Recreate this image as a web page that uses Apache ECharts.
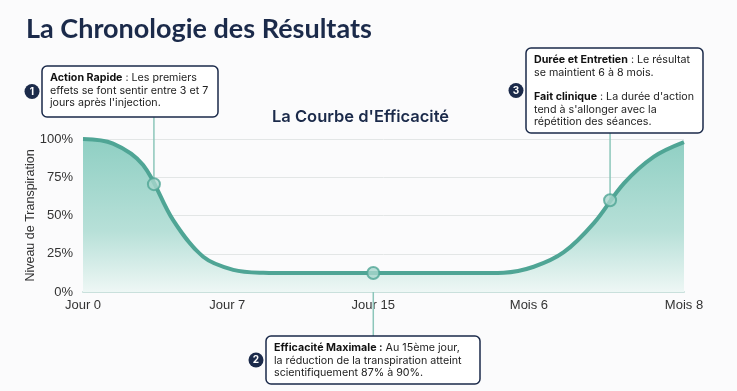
<!DOCTYPE html>
<html>
<head>
<meta charset="utf-8">
<script src="https://cdn.jsdelivr.net/npm/echarts@6/dist/echarts.min.js"></script>
<style>
html,body{margin:0;padding:0;background:#fbfbfc;}
#c{width:737px;height:391px;}
</style>
</head>
<body>
<div id="c"></div>
<script>
// ---- Data ----
const chartTitle = "La Chronologie des Résultats";
const chartSubtitle = "La Courbe d'Efficacité";
const yAxisName = "Niveau de Transpiration";
// timeline position (0-100 of the axis) and label
const tickPositions = [0, 24, 48.3, 74.2, 100];
const tickLabels = ["Jour 0", "Jour 7", "Jour 15", "Mois 6", "Mois 8"];
const yTicks = [0, 25, 50, 75, 100];
// curve (timeline position, sweat level %)
const curveX = [0, 5, 10, 15, 20, 25, 30, 35, 40, 45, 50, 55, 60, 65, 70, 75, 80, 85, 90, 95, 100];
const curveY = [100, 97, 83, 47, 23, 14.5, 12.6, 12.4, 12.4, 12.4, 12.4, 12.4, 12.4, 12.4, 12.6, 16.5, 26, 45, 71, 88.5, 98];
// annotated points
const annotX = [11.8, 48.3, 87.7];
const annotY = [70.5, 12.4, 60];
const annotNum = ["1", "2", "3"];
const annotText = [
  "{b|Action Rapide} : Les premiers\neffets se font sentir entre 3 et 7\njours après l'injection.",
  "{b|Efficacité Maximale :} Au 15ème jour,\nla réduction de la transpiration atteint\nscientifiquement 87% à 90%.",
  "{b|Durée et Entretien} : Le résultat\nse maintient 6 à 8 mois.\n\n{b|Fait clinique} : La durée d'action\ntend à s'allonger avec la\nrépétition des séances."
];

// ---- Layout ----
const boxes = [
  {x: 42, y: 66, w: 176, h: 51},
  {x: 266, y: 336, w: 214, h: 48},
  {x: 526, y: 48, w: 177, h: 85}
];
const navy = "#1b2a4a";
const teal = "#4fa595";
const bodyFont = "Inter, 'Noto Sans', sans-serif";
const axisFont = "'Liberation Sans', Arial, sans-serif";
const noteSize = 10.7;

const chart = echarts.init(document.getElementById('c'), null, {renderer: 'canvas'});
const curveData = curveX.map((x, i) => [x, curveY[i]]);
const annotData = annotX.map((x, i) => [x, annotY[i]]);
const labelMap = {};
tickPositions.forEach((p, i) => labelMap[p] = tickLabels[i]);

chart.setOption({
  backgroundColor: '#fbfbfc',
  animation: false,
  title: [
    {text: chartTitle, left: 21, top: 11, textStyle: {fontFamily: "Lato, sans-serif", fontWeight: 700, fontSize: 27, color: navy}},
    {text: chartSubtitle, left: 267, top: 104, textStyle: {fontFamily: bodyFont, fontWeight: 600, fontSize: 16.5, color: navy}}
  ],
  grid: {left: 83, right: 53, top: 139, bottom: 99},
  xAxis: {
    type: 'value', min: 0, max: 100,
    axisLine: {show: true, lineStyle: {color: '#c9e0dc', width: 2}},
    axisTick: {show: false},
    splitLine: {show: false},
    axisLabel: {
      customValues: tickPositions,
      formatter: v => labelMap[v] || '',
      fontFamily: axisFont, fontSize: 13, color: '#333', margin: 7
    }
  },
  yAxis: {
    type: 'value', min: 0, max: 100, interval: 25,
    name: yAxisName, nameLocation: 'middle', nameGap: 46, nameRotate: 90, nameMoveOverlap: false,
    nameTextStyle: {fontFamily: axisFont, fontSize: 12.5, color: '#333'},
    axisLine: {show: false}, axisTick: {show: false},
    axisLabel: {formatter: '{value}%', fontFamily: axisFont, fontSize: 13, color: '#333', margin: 10},
    splitLine: {lineStyle: {color: '#e3e6e6', width: 1}}
  },
  series: [
    {
      type: 'line', data: curveData, smooth: 0.35, symbol: 'none', z: 3,
      lineStyle: {color: teal, width: 4},
      areaStyle: {opacity: 1, color: new echarts.graphic.LinearGradient(0, 0, 0, 1, [
        {offset: 0, color: '#8fcfc3'},
        {offset: 0.6, color: '#b7e0d8'},
        {offset: 1, color: '#eef7f5'}
      ])}
    },
    {
      type: 'scatter', data: annotData, symbol: 'circle', symbolSize: 12, z: 6,
      itemStyle: {color: '#a9d7cd', borderColor: teal, borderWidth: 2}
    }
  ]
});

function drawAnnotations() {
  const els = [];
  annotData.forEach((d, i) => {
    const p = chart.convertToPixel({gridIndex: 0}, d);
    const b = boxes[i];
    const yEdge = (b.y > p[1]) ? b.y : b.y + b.h;
    els.push({type: 'line', z: 2, shape: {x1: p[0], y1: yEdge, x2: p[0], y2: p[1]},
      style: {stroke: '#8cc6ba', lineWidth: 1.5}});
    els.push({type: 'rect', z: 10, shape: {x: b.x, y: b.y, width: b.w, height: b.h, r: 5},
      style: {fill: '#ffffff', stroke: navy, lineWidth: 1.5}});
    els.push({type: 'text', z: 11, x: b.x + 8, y: b.y + 6,
      style: {text: annotText[i], fontFamily: bodyFont, fontSize: noteSize, lineHeight: 12.3, fill: '#222',
        rich: {b: {fontFamily: bodyFont, fontSize: noteSize, fontWeight: 700, fill: '#111', lineHeight: 12.3}}}});
    els.push({type: 'circle', z: 12, shape: {cx: b.x - 10, cy: b.y + b.h / 2, r: 7.5},
      style: {fill: navy}});
    els.push({type: 'text', z: 13, x: b.x - 10, y: b.y + b.h / 2,
      style: {text: annotNum[i], fontFamily: bodyFont, fontSize: 10, fontWeight: 700, fill: '#fff',
        align: 'center', verticalAlign: 'middle'}});
  });
  chart.setOption({graphic: {elements: els}});
}
drawAnnotations();
</script>
</body>
</html>
